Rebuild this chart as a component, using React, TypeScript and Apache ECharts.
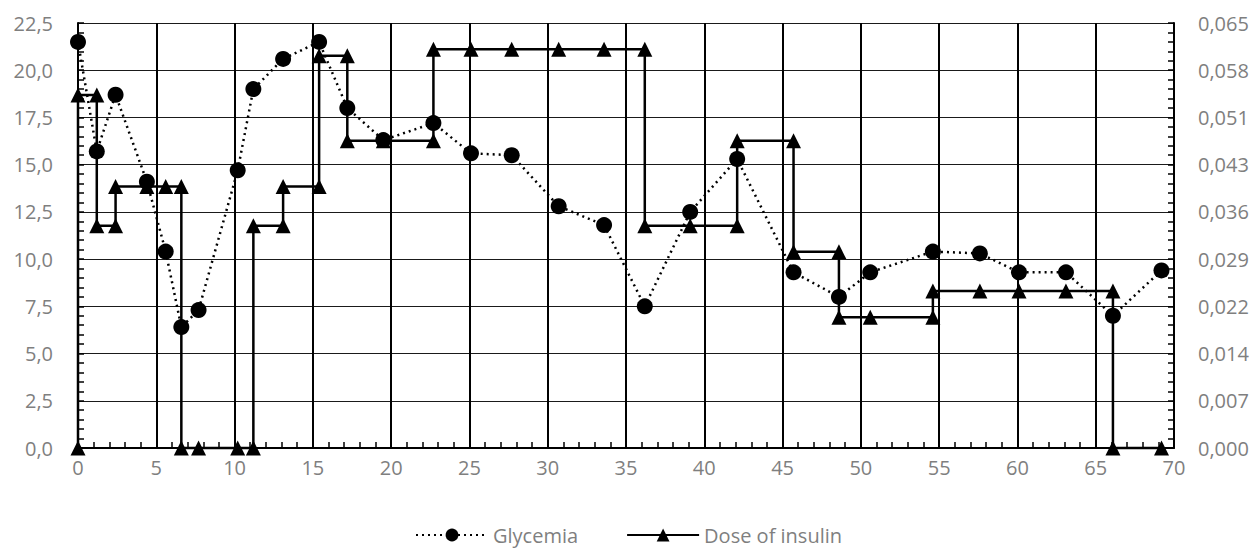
import React, { useEffect, useRef } from "react";
import * as echarts from "echarts";

// Time (hours) of each measurement
const times = [0, 1.2, 2.4, 4.4, 5.6, 6.6, 7.7, 10.2, 11.2, 13.1, 15.4, 17.2, 19.5, 22.7, 25.1, 27.7, 30.7, 33.6, 36.2, 39.1, 42.1, 45.7, 48.6, 50.6, 54.6, 57.6, 60.1, 63.1, 66.1, 69.2];
// Glycemia values
const glycemia = [21.5, 15.7, 18.7, 14.1, 10.4, 6.4, 7.3, 14.7, 19.0, 20.6, 21.5, 18.0, 16.3, 17.2, 15.6, 15.5, 12.8, 11.8, 7.5, 12.5, 15.3, 9.3, 8.0, 9.3, 10.4, 10.3, 9.3, 9.3, 7.0, 9.4];
// Insulin dose step points
const insulinTime = [0, 0, 1.2, 1.2, 2.4, 2.4, 4.4, 5.6, 6.6, 6.6, 7.7, 10.2, 11.2, 11.2, 13.1, 13.1, 15.4, 15.4, 17.2, 17.2, 19.5, 22.7, 22.7, 25.1, 27.7, 30.7, 33.6, 36.2, 36.2, 39.1, 42.1, 42.1, 45.7, 45.7, 48.6, 48.6, 50.6, 54.6, 54.6, 57.6, 60.1, 63.1, 66.1, 66.1, 69.2];
const insulinDose = [0, 0.054, 0.054, 0.034, 0.034, 0.040, 0.040, 0.040, 0.040, 0, 0, 0, 0, 0.034, 0.034, 0.040, 0.040, 0.060, 0.060, 0.047, 0.047, 0.047, 0.061, 0.061, 0.061, 0.061, 0.061, 0.061, 0.034, 0.034, 0.034, 0.047, 0.047, 0.030, 0.030, 0.020, 0.020, 0.020, 0.024, 0.024, 0.024, 0.024, 0.024, 0, 0];

const xTicks = { min: 0, max: 70, interval: 5 };
const leftTicks = { min: 0, max: 22.5, interval: 2.5 };
const rightTicks = { min: 0, max: 0.065, count: 9 };

const FONT = "Open Sans";
const LABEL_COLOR = "#7f7f7f";

export default function App() {
  const ref = useRef<HTMLDivElement>(null);
  useEffect(() => {
    if (!ref.current) return;
    const chart = echarts.init(ref.current, null, { renderer: "svg" });
    const glyData = times.map((t, i) => [t, glycemia[i]]);
    const insData = insulinTime.map((t, i) => [t, insulinDose[i]]);
    const minorTick = (len: number) => ({
      show: true,
      splitNumber: 5,
      length: len,
      lineStyle: { color: "#000", width: 1.5 },
    });
    chart.setOption({
      animation: false,
      backgroundColor: "#fff",
      grid: { left: 78, right: 84, top: 23, bottom: 100, containLabel: false },
      legend: {
        left: 415,
        top: 525,
        padding: 0,
        itemWidth: 72,
        itemHeight: 16,
        itemGap: 48,
        textStyle: { fontFamily: FONT, fontSize: 20, color: LABEL_COLOR, lineHeight: 20 },
        data: ["Glycemia", "Dose of insulin"],
      },
      xAxis: {
        type: "value",
        min: xTicks.min,
        max: xTicks.max,
        interval: xTicks.interval,
        axisLine: { show: true, onZero: false, lineStyle: { color: "#000", width: 2 } },
        axisTick: { show: true, inside: true, length: 6, lineStyle: { color: "#000", width: 1.5 } },
        minorTick: minorTick(6),
        splitLine: { show: true, lineStyle: { color: "#000", width: 2 } },
        axisLabel: { fontFamily: FONT, fontSize: 20, color: LABEL_COLOR, margin: 9 },
      },
      yAxis: [
        {
          type: "value",
          min: leftTicks.min,
          max: leftTicks.max,
          interval: leftTicks.interval,
          axisLine: { show: true, lineStyle: { color: "#000", width: 2 } },
          axisTick: { show: true, inside: true, length: 6, lineStyle: { color: "#000", width: 1.5 } },
          minorTick: minorTick(6),
          splitLine: { show: true, lineStyle: { color: "#1a1a1a", width: 1 } },
          axisLabel: {
            fontFamily: FONT,
            fontSize: 20,
            color: LABEL_COLOR,
            margin: 25,
            formatter: (v: number) => v.toFixed(1).replace(".", ","),
          },
        },
        {
          type: "value",
          position: "right",
          min: rightTicks.min,
          max: rightTicks.max,
          interval: rightTicks.max / rightTicks.count,
          axisLine: { show: true, lineStyle: { color: "#000", width: 2 } },
          axisTick: { show: true, inside: true, length: 6, lineStyle: { color: "#000", width: 1.5 } },
          minorTick: minorTick(6),
          splitLine: { show: false },
          axisLabel: {
            fontFamily: FONT,
            fontSize: 20,
            color: LABEL_COLOR,
            margin: 24,
            formatter: (v: number) => v.toFixed(3).replace(".", ","),
          },
        },
      ],
      series: [
        {
          name: "Dose of insulin",
          type: "line",
          yAxisIndex: 1,
          data: insData,
          clip: false,
          symbol: "triangle",
          symbolSize: 15,
          itemStyle: { color: "#000" },
          lineStyle: { color: "#000", width: 2.5, type: "solid" },
          z: 3,
        },
        {
          name: "Glycemia",
          type: "line",
          yAxisIndex: 0,
          data: glyData,
          clip: false,
          symbol: "circle",
          symbolSize: 16,
          itemStyle: { color: "#000" },
          lineStyle: { color: "#000", width: 2.5, type: [2, 4] },
          z: 4,
        },
      ],
    });
    return () => chart.dispose();
  }, []);
  return (
    <div
      ref={ref}
      style={{ position: "absolute", left: 0, top: 0, width: 1258, height: 548 }}
    />
  );
}
